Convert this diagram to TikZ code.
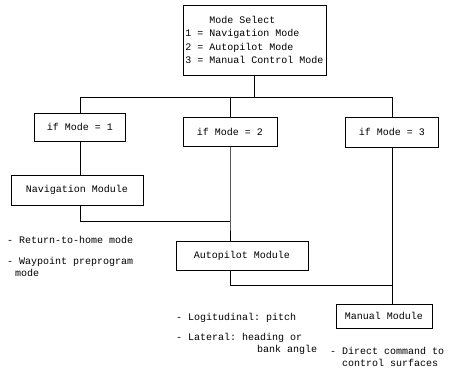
\documentclass[tikz,border=0pt]{standalone}
\usepackage{fontspec}
\setmonofont{Liberation Mono}
\begin{document}
\begin{tikzpicture}[x=1pt,y=-1pt,
  box/.style={draw, line width=0.8pt, font=\ttfamily\fontsize{10}{13.5}\selectfont, inner sep=0pt, align=left},
  lbl/.style={anchor=west, font=\ttfamily\fontsize{10}{12.5}\selectfont, inner sep=0pt, align=left},
  wire/.style={line width=0.8pt}]
\useasboundingbox[fill=white] (0,0) rectangle (463,390);
% boxes
\node[box, minimum width=143pt, minimum height=70pt] (top) at (254.5,40)
  {\hspace*{24pt}Mode Select\\1 = Navigation Mode\\2 = Autopilot Mode\\3 = Manual Control Mode};
\node[box, minimum width=91pt, minimum height=28pt] (if1) at (80,127) {if Mode = 1};
\node[box, minimum width=94pt, minimum height=29pt] (if2) at (230,131.5) {if Mode = 2};
\node[box, minimum width=93pt, minimum height=30pt] (if3) at (392,132) {if Mode = 3};
\node[box, minimum width=132pt, minimum height=30pt] (nav) at (77,190) {Navigation Module};
\node[box, minimum width=132pt, minimum height=29pt] (auto) at (242,255.5) {Autopilot Module};
\node[box, minimum width=96pt, minimum height=24pt] (man) at (384,316) {Manual Module};
% bus coordinates
\coordinate (busL) at (80,97);
\coordinate (busR) at (392,97);
\coordinate (navJ) at (80,221);
\coordinate (midJ) at (230,221);
\coordinate (autoJ) at (230,285);
\coordinate (manJ) at (392,285);
% connectors
\draw[wire] (busL) -- (busR);
\draw[wire] (top.south) -- (top.south |- busL);
\draw[wire] (busL) -- (if1.north);
\draw[wire] (if2.north |- busL) -- (if2.north);
\draw[wire] (busR) -- (if3.north);
\draw[wire] (if1.south) -- (if1.south |- nav.north);
\draw[wire] (if1.south |- nav.south) -- (navJ) -- (midJ);
\draw[wire] (if2.south) -- (midJ) -- (midJ |- auto.north);
\draw[wire] (midJ |- auto.south) -- (autoJ) -- (manJ);
\draw[wire] (if3.south) -- (if3.south |- man.north);
% labels
\node[lbl] (r1) at (7,240) {- Return-to-home mode};
\node[lbl, anchor=north west] (r2) at (7,257) {- Waypoint preprogram\\\hspace*{8pt}mode};
\node[lbl] (a1) at (176,318) {- Logitudinal: pitch};
\node[lbl, anchor=north west] (a2) at (176,333) {- Lateral: heading or\\\hspace*{81pt}bank angle};
\node[lbl, anchor=north west] (m1) at (330,347) {- Direct command to\\\hspace*{12pt}control surfaces};
\end{tikzpicture}
\end{document}
